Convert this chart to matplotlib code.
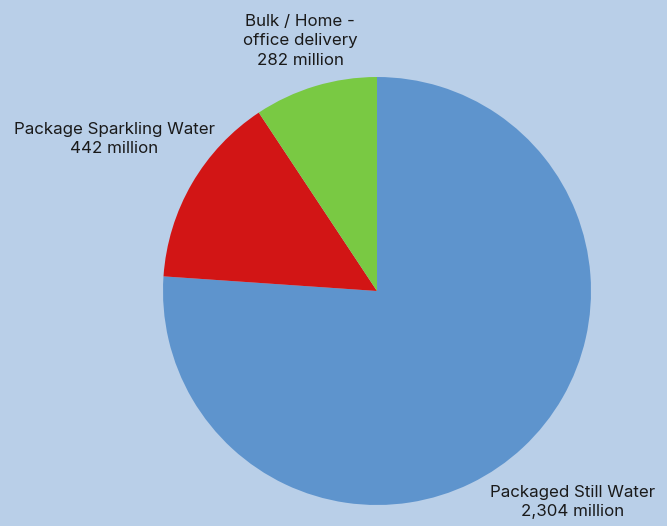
import matplotlib
matplotlib.use("Agg")
import matplotlib.pyplot as plt

labels = ["Packaged Still Water\n2,304 million",
          "Package Sparkling Water\n442 million",
          "Bulk / Home -\noffice delivery\n282 million"]
values = [2304, 442, 282]
colors = ["#5E94CD", "#D21515", "#79C943"]
BG = "#B9CFE8"

W, H = 667, 526
fig = plt.figure(figsize=(W / 100, H / 100), dpi=100, facecolor=BG)
ax = fig.add_axes([0, 0, 1, 1])
ax.set_facecolor(BG)

ax.pie(values, colors=colors, startangle=90, counterclock=False,
       center=(377, H - 291), radius=214, frame=True,
       wedgeprops=dict(linewidth=0))
ax.set_xlim(0, W)
ax.set_ylim(0, H)
ax.axis("off")

pos = [(573, H - 502), (114, H - 139), (300, H - 41)]
for (x, y), s in zip(pos, labels):
    ax.text(x, y, s, ha="center", va="center", fontsize=12.2, color="#1a1a1a",
            family="Inter", linespacing=1.35)

fig.savefig("out.png", dpi=100, facecolor=BG)
